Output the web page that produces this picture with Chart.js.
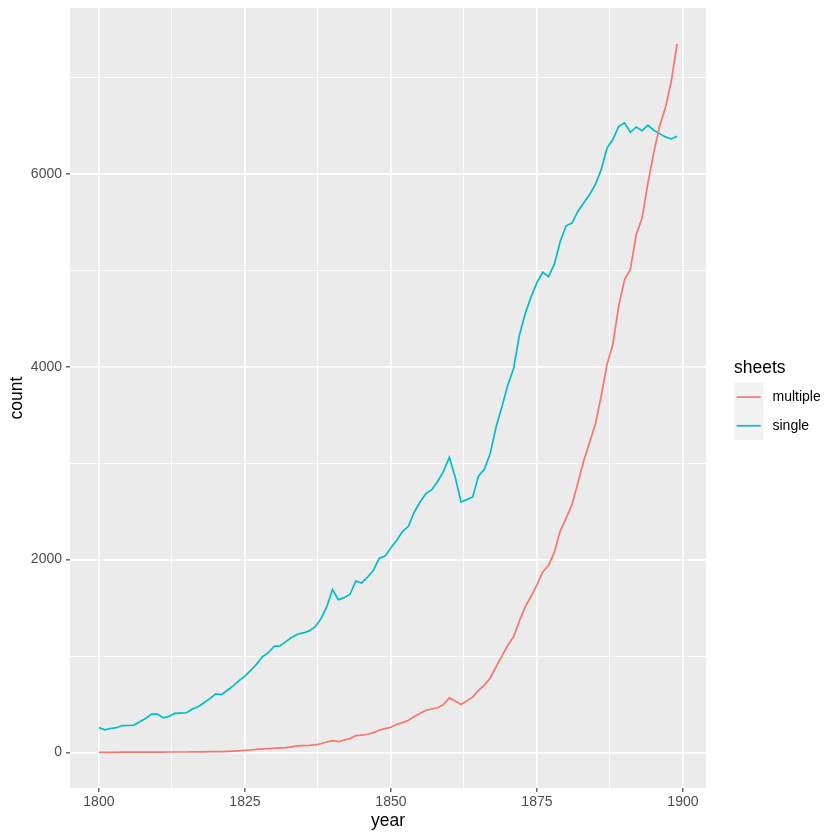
<!DOCTYPE html>
<html>
<head>
<meta charset="utf-8">
<script src="https://cdn.jsdelivr.net/npm/chart.js@4.4.1/dist/chart.umd.min.js"></script>
<style>
  html, body { margin: 0; padding: 0; background: #ffffff; }
  #wrap { width: 840px; height: 840px; }
</style>
</head>
<body>
<div id="wrap"><canvas id="c" width="840" height="840"></canvas></div>
<script>
const years = [
  1800,1801,1802,1803,1804,1805,1806,1807,1808,1809,
  1810,1811,1812,1813,1814,1815,1816,1817,1818,1819,
  1820,1821,1822,1823,1824,1825,1826,1827,1828,1829,
  1830,1831,1832,1833,1834,1835,1836,1837,1838,1839,
  1840,1841,1842,1843,1844,1845,1846,1847,1848,1849,
  1850,1851,1852,1853,1854,1855,1856,1857,1858,1859,
  1860,1861,1862,1863,1864,1865,1866,1867,1868,1869,
  1870,1871,1872,1873,1874,1875,1876,1877,1878,1879,
  1880,1881,1882,1883,1884,1885,1886,1887,1888,1889,
  1890,1891,1892,1893,1894,1895,1896,1897,1898,1899
];
const multipleCounts = [
  3,3,3,3,4,4,4,5,5,5,
  5,5,6,6,6,6,7,7,8,9,
  10,11,13,15,18,22,27,33,38,42,
  45,48,52,60,70,72,74,80,92,110,
  124,114,131,145,176,180,190,207,231,249,
  262,294,311,335,373,404,439,452,465,497,
  567,534,499,536,575,646,698,774,888,999,
  1112,1199,1365,1510,1620,1741,1873,1942,2080,2298,
  2430,2570,2791,3022,3212,3402,3696,4024,4231,4630,
  4900,5010,5367,5540,5903,6215,6491,6682,6958,7345
];
const singleCounts = [
  260,236,250,258,280,281,285,319,354,399,
  399,361,375,406,410,413,451,476,517,559,
  608,601,646,691,746,792,851,917,993,1035,
  1101,1105,1150,1192,1226,1240,1261,1302,1385,1509,
  1689,1585,1606,1641,1779,1758,1820,1889,2014,2038,
  2124,2200,2293,2345,2494,2597,2684,2725,2810,2915,
  3060,2857,2598,2622,2650,2868,2937,3099,3375,3583,
  3807,3980,4326,4550,4723,4870,4977,4932,5065,5300,
  5460,5488,5609,5696,5782,5886,6042,6266,6353,6491,
  6526,6429,6484,6446,6502,6450,6415,6381,6360,6388
];
const seriesNames = ['multiple', 'single'];
const seriesColors = ['#F8766D', '#00BFC4'];
const xMajorTicks = [1800, 1825, 1850, 1875, 1900];
const xMinorTicks = [1812.5, 1837.5, 1862.5, 1887.5];
const yMajorTicks = [0, 2000, 4000, 6000];
const yMinorTicks = [1000, 3000, 5000, 7000];
const legendTitle = 'sheets';
const xTitle = 'year';
const yTitle = 'count';

const FONT = "'Liberation Sans', Arial, Helvetica, sans-serif";
Chart.defaults.font.family = FONT;

function toPoints(vals) { return years.map((y, i) => ({ x: y, y: vals[i] })); }

const isMinorX = v => xMinorTicks.includes(v);
const isMinorY = v => yMinorTicks.includes(v);

const panelBg = {
  id: 'panelBg',
  beforeDraw(chart) {
    const { ctx, chartArea: a } = chart;
    ctx.save();
    ctx.fillStyle = '#ffffff';
    ctx.fillRect(0, 0, chart.width, chart.height);
    ctx.fillStyle = '#EBEBEB';
    ctx.fillRect(a.left, a.top, a.right - a.left, a.bottom - a.top);
    ctx.restore();
  }
};

const ggLegend = {
  id: 'ggLegend',
  afterDraw(chart) {
    const ctx = chart.ctx;
    ctx.save();
    ctx.fillStyle = '#000000';
    ctx.font = '17.5px ' + FONT;
    ctx.textAlign = 'left';
    ctx.textBaseline = 'alphabetic';
    ctx.fillText(legendTitle, 734, 372.7);
    const kx = 734.3, ky = 382.7, ks = 28.7;
    ctx.fillStyle = '#F2F2F2';
    ctx.fillRect(kx, ky, ks, ks * seriesNames.length);
    seriesNames.forEach((name, i) => {
      const cy = ky + ks * i + ks / 2;
      ctx.strokeStyle = seriesColors[i];
      ctx.lineWidth = 1.7;
      ctx.beginPath();
      ctx.moveTo(kx + 2.3, cy);
      ctx.lineTo(kx + ks - 2.3, cy);
      ctx.stroke();
      ctx.fillStyle = '#000000';
      ctx.font = '14px ' + FONT;
      ctx.textBaseline = 'middle';
      ctx.fillText(name, 772.5, cy);
    });
    ctx.restore();
  }
};

new Chart(document.getElementById('c'), {
  type: 'line',
  data: {
    datasets: [
      { label: seriesNames[0], data: toPoints(multipleCounts), borderColor: seriesColors[0],
        backgroundColor: seriesColors[0], borderWidth: 1.7, pointRadius: 0, tension: 0, fill: false },
      { label: seriesNames[1], data: toPoints(singleCounts), borderColor: seriesColors[1],
        backgroundColor: seriesColors[1], borderWidth: 1.7, pointRadius: 0, tension: 0, fill: false }
    ]
  },
  options: {
    responsive: false,
    animation: false,
    devicePixelRatio: 1,
    layout: { padding: { top: 8, right: 134, left: 0, bottom: 0 } },
    plugins: { legend: { display: false }, tooltip: { enabled: false } },
    scales: {
      x: {
        type: 'linear',
        min: 1795.05,
        max: 1903.95,
        afterBuildTicks(scale) {
          scale.ticks = [...xMajorTicks, ...xMinorTicks].sort((a, b) => a - b).map(v => ({ value: v }));
        },
        afterFit(scale) {
          scale.height = 52;
          scale.paddingLeft = 0; scale.paddingRight = 0;
          scale.paddingTop = 0; scale.paddingBottom = 0;
        },
        border: { display: false },
        grid: {
          color: '#ffffff',
          lineWidth: ctx => (ctx.tick && isMinorX(ctx.tick.value)) ? 0.85 : 1.7,
          drawTicks: true,
          tickLength: 4,
          tickColor: ctx => (ctx.tick && isMinorX(ctx.tick.value)) ? 'rgba(0,0,0,0)' : '#333333',
          tickWidth: 1.1
        },
        ticks: {
          autoSkip: false,
          maxRotation: 0,
          padding: 2,
          color: '#4D4D4D',
          font: { size: 14 },
          callback: v => isMinorX(v) ? '' : String(v)
        },
        title: { display: true, text: xTitle, color: '#000000', font: { size: 17.5 }, padding: { top: 0, bottom: 8.5 } }
      },
      y: {
        type: 'linear',
        min: -367,
        max: 7717,
        afterBuildTicks(scale) {
          scale.ticks = [...yMajorTicks, ...yMinorTicks].sort((a, b) => a - b).map(v => ({ value: v }));
        },
        afterFit(scale) {
          scale.width = 70;
          scale.paddingLeft = 0; scale.paddingRight = 0;
          scale.paddingTop = 0; scale.paddingBottom = 0;
        },
        border: { display: false },
        grid: {
          color: '#ffffff',
          lineWidth: ctx => (ctx.tick && isMinorY(ctx.tick.value)) ? 0.85 : 1.7,
          drawTicks: true,
          tickLength: 4,
          tickColor: ctx => (ctx.tick && isMinorY(ctx.tick.value)) ? 'rgba(0,0,0,0)' : '#333333',
          tickWidth: 1.1
        },
        ticks: {
          autoSkip: false,
          padding: 4,
          color: '#4D4D4D',
          font: { size: 14 },
          callback: v => isMinorY(v) ? '' : String(v)
        },
        title: { display: true, text: yTitle, color: '#000000', font: { size: 17.5 }, padding: { top: 6.7, bottom: 0 } }
      }
    }
  },
  plugins: [panelBg, ggLegend]
});
</script>
</body>
</html>
